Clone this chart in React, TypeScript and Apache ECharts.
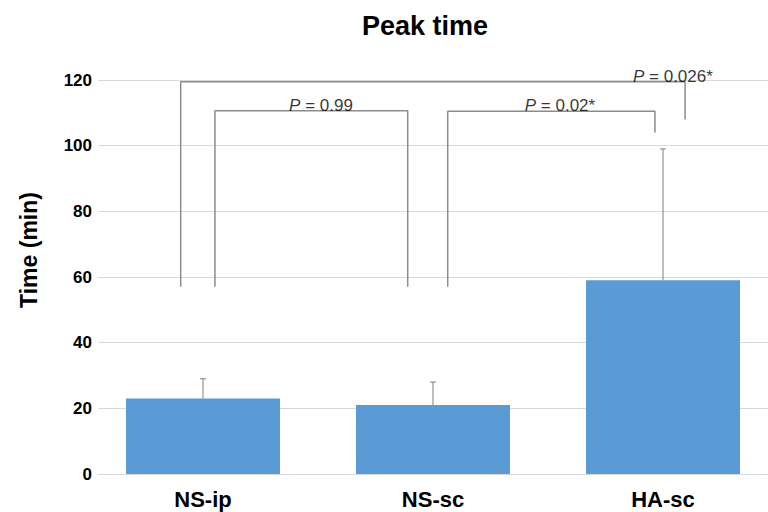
import React, { useEffect, useRef } from "react";
import * as echarts from "echarts";

const categories = ["NS-ip", "NS-sc", "HA-sc"];
const positions = [0, 1, 2];
const means = [23, 21, 59];
const errTops = [29, 28, 99];
const yTicks = { min: 0, max: 120, interval: 20 };
const xRange = { min: -0.4565, max: 2.4565 };

// significance brackets: [x, y] points; category i sits at x = i
const bracketOuter = [[-0.097, 57], [-0.097, 119.5], [2.096, 119.5], [2.096, 108]];
const bracketLeft = [[0.052, 57], [0.052, 110.6], [0.89, 110.6], [0.89, 57]];
const bracketRight = [[1.064, 57], [1.064, 110.5], [1.965, 110.5], [1.965, 104]];
const pLabels = [
  [0.513, 110.6, "0.99"],
  [1.552, 110.5, "0.02*"],
  [2.043, 119.5, "0.026*"],
];

const FONT = "'Liberation Sans', Arial, Helvetica, sans-serif";

export default function App() {
  const ref = useRef<HTMLDivElement>(null);
  useEffect(() => {
    if (!ref.current) return;
    const chart = echarts.init(ref.current, null, { renderer: "svg" });
    const bracketStyle = { color: "#8c8c8c", width: 1.5 };
    const mkBracket = (data: number[][]) => ({
      type: "line",
      data,
      symbol: "none",
      lineStyle: bracketStyle,
      silent: true,
      z: 5,
    });
    chart.setOption({
      animation: false,
      title: {
        text: "Peak time",
        left: 420,
        top: 7,
        textAlign: "center",
        textStyle: { fontFamily: FONT, fontSize: 27, fontWeight: "bold", color: "#000" },
      },
      graphic: [
        {
          type: "text",
          x: 29,
          y: 250,
          rotation: Math.PI / 2,
          style: {
            text: "Time (min)",
            fontFamily: FONT,
            fontSize: 23,
            fontWeight: "bold",
            fill: "#000",
            textAlign: "center",
            textVerticalAlign: "middle",
          },
        },
      ],
      grid: { left: 98, right: 0, top: 80, bottom: 38 },
      xAxis: {
        type: "value",
        min: xRange.min,
        max: xRange.max,
        axisLine: { show: false },
        axisTick: { show: false },
        splitLine: { show: false },
        axisLabel: {
          customValues: positions,
          formatter: (v: number) => categories[Math.round(v)] ?? "",
          fontFamily: FONT,
          fontSize: 22,
          fontWeight: "bold",
          color: "#000",
          margin: 14,
        },
      },
      yAxis: {
        type: "value",
        min: yTicks.min,
        max: yTicks.max,
        interval: yTicks.interval,
        axisLine: { show: false },
        axisTick: { show: false },
        splitLine: { lineStyle: { color: "#d9d9d9", width: 1 } },
        axisLabel: {
          fontFamily: FONT,
          fontSize: 17,
          fontWeight: "bold",
          color: "#000",
          margin: 6,
        },
      },
      series: [
        {
          type: "bar",
          data: positions.map((x, i) => [x, means[i]]),
          barWidth: 154,
          itemStyle: { color: "#5b9bd5" },
          z: 2,
        },
        {
          type: "custom",
          data: positions.map((x, i) => [x, means[i], errTops[i]]),
          renderItem: (params: any, api: any) => {
            const base = api.coord([api.value(0), api.value(1)]);
            const top = api.coord([api.value(0), api.value(2)]);
            const style = { stroke: "#7f7f7f", lineWidth: 1 };
            return {
              type: "group",
              children: [
                { type: "line", shape: { x1: base[0], y1: base[1], x2: top[0], y2: top[1] }, style },
                { type: "line", shape: { x1: top[0] - 3, y1: top[1], x2: top[0] + 3, y2: top[1] }, style },
              ],
            };
          },
          z: 3,
        },
        mkBracket(bracketOuter),
        mkBracket(bracketLeft),
        mkBracket(bracketRight),
        {
          type: "scatter",
          data: pLabels,
          symbolSize: 0,
          silent: true,
          z: 6,
          label: {
            show: true,
            position: "top",
            distance: -3,
            formatter: (p: any) => `{i|P} = ${p.value[2]}`,
            fontFamily: FONT,
            fontSize: 17,
            color: "#000",
            rich: {
              i: { fontFamily: FONT, fontSize: 17, fontStyle: "italic", color: "#000" },
            },
          },
        },
      ],
    });
    return () => chart.dispose();
  }, []);
  return <div ref={ref} style={{ width: 768, height: 512, position: "absolute", left: 0, top: 0 }} />;
}
